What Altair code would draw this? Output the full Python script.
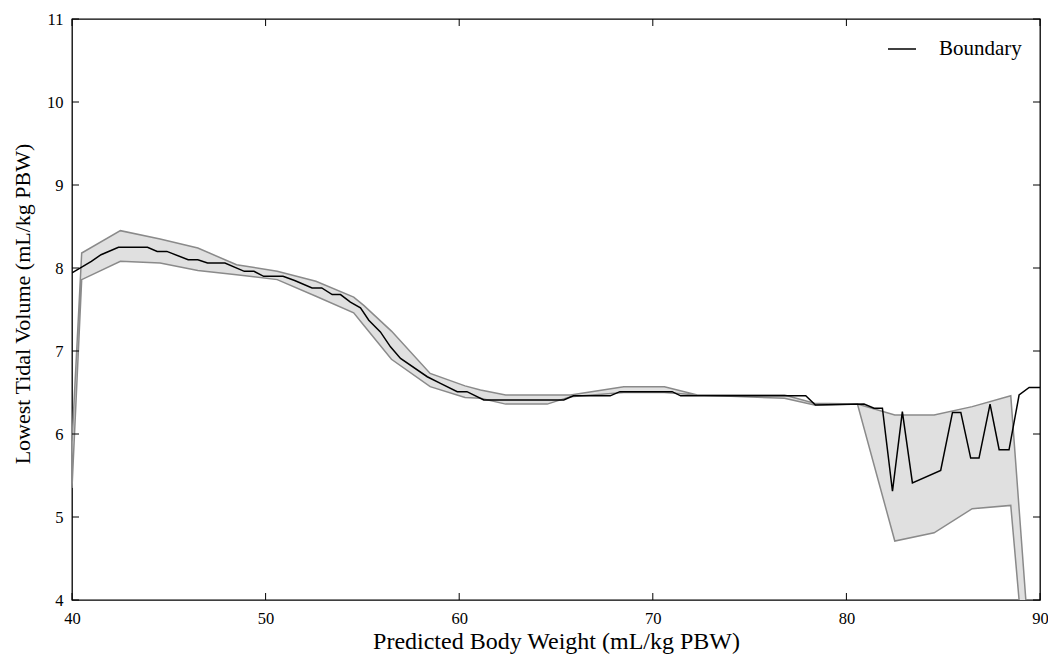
import altair as alt
import pandas as pd

# ---- data ----
line_x = [40.0, 40.5, 41.0, 41.5, 42.4, 43.9, 44.4, 44.9, 46.0, 46.5, 47.0, 47.9,
          48.9, 49.4, 49.9, 50.9, 51.5, 52.4, 52.9, 53.44, 53.87, 54.38, 54.9, 55.33,
          55.93, 56.45, 56.97, 58.35, 59.03, 59.9, 60.4, 61.27, 65.4, 65.9, 67.8, 68.3,
          71.0, 71.44, 77.9, 78.4, 80.91, 81.43, 81.86, 82.38, 82.89, 83.41, 84.87, 85.48,
          85.91, 86.42, 86.85, 87.42, 87.89, 88.40, 88.92, 89.44, 90.0]
line_y = [7.94, 8.01, 8.08, 8.16, 8.25, 8.25, 8.20, 8.20, 8.10, 8.10, 8.06, 8.06,
          7.96, 7.96, 7.90, 7.90, 7.85, 7.76, 7.76, 7.68, 7.68, 7.59, 7.52, 7.37,
          7.23, 7.05, 6.91, 6.69, 6.61, 6.51, 6.51, 6.41, 6.41, 6.46, 6.46, 6.51,
          6.51, 6.46, 6.46, 6.35, 6.36, 6.31, 6.31, 5.31, 6.27, 5.41, 5.56, 6.26,
          6.26, 5.71, 5.71, 6.36, 5.81, 5.81, 6.47, 6.56, 6.56]

band_x = [40.0, 40.5, 42.5, 44.55, 46.5, 48.5, 50.6, 52.6, 54.55, 55.07, 56.5, 58.5,
          60.3, 61.1, 62.4, 64.55, 65.75, 68.5, 70.6, 72.3, 76.8, 78.35, 80.57, 82.5,
          84.53, 86.5, 88.49, 89.5]
band_upper = [5.90, 8.18, 8.45, 8.35, 8.24, 8.04, 7.96, 7.84, 7.65, 7.55, 7.24, 6.73,
              6.58, 6.53, 6.47, 6.47, 6.47, 6.57, 6.57, 6.47, 6.47, 6.37, 6.36, 6.23,
              6.23, 6.33, 6.46, 3.27]
band_lower = [5.35, 7.86, 8.08, 8.06, 7.97, 7.92, 7.86, 7.66, 7.46, 7.31, 6.90, 6.57,
              6.44, 6.43, 6.36, 6.36, 6.45, 6.50, 6.50, 6.47, 6.43, 6.35, 6.36, 4.71,
              4.81, 5.10, 5.14, 2.46]

x_ticks = [40, 50, 60, 70, 80, 90]
y_ticks = [4, 5, 6, 7, 8, 9, 10, 11]
series_name = "Boundary"
x_title = "Predicted Body Weight (mL/kg PBW)"
y_title = "Lowest Tidal Volume (mL/kg PBW)"

# ---- layout / style ----
W, H = 968, 581
FONT = "Liberation Serif"
TICK = 7

line_df = pd.DataFrame({"x": line_x, "y": line_y, "series": series_name})
band_df = pd.DataFrame({"x": band_x, "upper": band_upper, "lower": band_lower})
xt_df = pd.DataFrame({"v": x_ticks})
yt_df = pd.DataFrame({"v": y_ticks})

xscale = alt.Scale(domain=[40, 90], nice=False, zero=False)
yscale = alt.Scale(domain=[4, 11], nice=False, zero=False)

x_axis = alt.Axis(values=x_ticks, ticks=False, domain=False, grid=False, labelFlush=False,
                  labelPadding=10, labelFontSize=16.5, labelFont=FONT, labelColor="black",
                  titleFont=FONT, titleFontSize=24, titleFontWeight="normal", titleColor="black",
                  titleX=W / 2, titleY=41, titleBaseline="middle")
y_axis = alt.Axis(values=y_ticks, ticks=False, domain=False, grid=False, labelFlush=False,
                  labelPadding=9, labelFontSize=16.5, labelFont=FONT, labelColor="black",
                  titleFont=FONT, titleFontSize=22, titleFontWeight="normal", titleColor="black",
                  titleX=-50, titleY=H / 2 - 6, titleBaseline="middle")


def X(field):
    return alt.X(field, type="quantitative", scale=xscale, axis=x_axis, title=x_title)


def Y(field):
    return alt.Y(field, type="quantitative", scale=yscale, axis=y_axis, title=y_title)


band = alt.Chart(band_df).mark_area(
    fill="#e0e0e0", stroke="#8a8a8a", strokeWidth=1.5, clip=True
).encode(x=X("x"), y=Y("lower"), y2="upper:Q")

line = alt.Chart(line_df).mark_line(strokeWidth=1.5, clip=True).encode(
    x=X("x"),
    y=Y("y"),
    color=alt.Color("series:N", scale=alt.Scale(domain=[series_name], range=["black"]),
                    legend=alt.Legend(title=None, orient="none", legendX=815, legendY=15,
                                      symbolType="stroke", symbolSize=784, symbolStrokeWidth=1.5,
                                      labelFont=FONT, labelFontSize=21, labelColor="black",
                                      labelOffset=22, padding=0)),
)

tick_style = dict(color="black", strokeWidth=1)
bottom_ticks = alt.Chart(xt_df).mark_rule(**tick_style).encode(
    x=X("v"), y=alt.value(H), y2=alt.value(H - TICK))
top_ticks = alt.Chart(xt_df).mark_rule(**tick_style).encode(
    x=X("v"), y=alt.value(0), y2=alt.value(TICK))
left_ticks = alt.Chart(yt_df).mark_rule(**tick_style).encode(
    y=Y("v"), x=alt.value(0), x2=alt.value(TICK))
right_ticks = alt.Chart(yt_df).mark_rule(**tick_style).encode(
    y=Y("v"), x=alt.value(W), x2=alt.value(W - TICK))

chart = alt.layer(band, line, bottom_ticks, top_ticks, left_ticks, right_ticks).properties(
    width=W, height=H,
    autosize=alt.AutoSizeParams(type="none"),
    padding={"left": 72, "top": 19, "right": 8, "bottom": 56},
    background="white",
).configure_view(stroke="black", strokeWidth=1.3)

chart.save("out.html", embed_options={"renderer": "svg", "actions": False})
